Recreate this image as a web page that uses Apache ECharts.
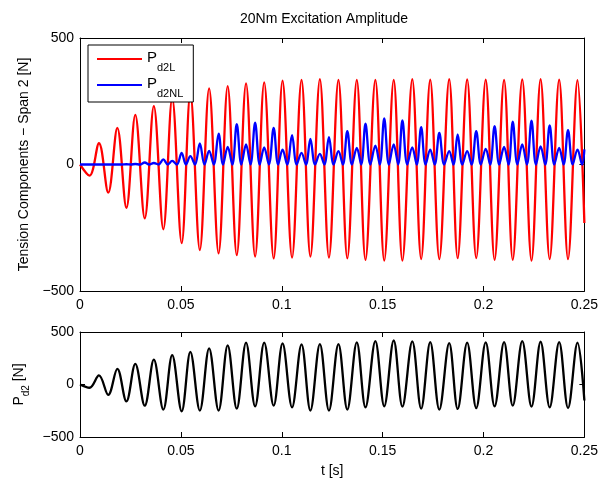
<!DOCTYPE html>
<html>
<head>
<meta charset="utf-8">
<script src="https://cdn.jsdelivr.net/npm/echarts@6/dist/echarts.min.js"></script>
<style>
html, body { margin: 0; padding: 0; background: #fff; }
#main { width: 601px; height: 479px; }
</style>
</head>
<body>
<div id="main"></div>
<script>
// times [s] of the oscillation extremes
var tTrough = [0.0047, 0.0140, 0.0230, 0.0321, 0.0413, 0.0504, 0.0594, 0.0687, 0.0777, 0.0868, 0.0960, 0.1051, 0.1142, 0.1234,
    0.1325, 0.1415, 0.1508, 0.1598, 0.1691, 0.1781, 0.1872, 0.1964, 0.2055, 0.2145, 0.2238, 0.2328, 0.2419];
var tPeak = [0.0094, 0.0185, 0.0274, 0.0366, 0.0457, 0.0547, 0.0640, 0.0732, 0.0823, 0.0913, 0.1004, 0.1098, 0.1189, 0.1281,
    0.1372, 0.1464, 0.1555, 0.1647, 0.1736, 0.1830, 0.1919, 0.2011, 0.2102, 0.2192, 0.2283, 0.2375, 0.2466];
// zero crossings (where Pd2NL touches 0)
var tCross = [0.0070, 0.0117, 0.0163, 0.0207, 0.0252, 0.0297, 0.0343, 0.0389, 0.0435, 0.0480, 0.0525, 0.0570, 0.0617, 0.0663,
    0.0709, 0.0755, 0.0800, 0.0845, 0.0891, 0.0936, 0.0982, 0.1027, 0.1074, 0.1120, 0.1165, 0.1211, 0.1257, 0.1303,
    0.1348, 0.1394, 0.1439, 0.1486, 0.1531, 0.1577, 0.1622, 0.1669, 0.1713, 0.1758, 0.1805, 0.1851, 0.1895, 0.1941,
    0.1987, 0.2033, 0.2078, 0.2124, 0.2168, 0.2215, 0.2260, 0.2306, 0.2351, 0.2397, 0.2442, 0.2489];
var tEnd = 0.25;

// Pd2L (red)
var redTrough = [-44, -111, -171, -213, -256, -311, -338, -351, -358, -364, -371, -368, -364, -368, -371, -377, -380, -380,
    -374, -374, -370, -370, -377, -377, -380, -374, -374];
var redPeak = [84, 145, 196, 231, 262, 281, 301, 310, 321, 325, 331, 334, 337, 334, 334, 334, 334, 337,
    335, 337, 336, 335, 334, 336, 337, 335, 333];
var redEnd = -231;

// Pd2NL (blue)
var blueTrough = [0, 0, 1, 8, 20, 46, 83, 122, 159, 165, 145, 116, 101, 108, 132, 161, 182, 174, 148, 125, 119, 132, 152,
    169, 173, 155, 136];
var bluePeak = [0, 0, 2, 6, 14, 33, 54, 70, 79, 68, 59, 46, 42, 53, 66, 75, 79, 68, 59, 53, 53, 62, 70, 79, 72, 66, 59];
var blueEnd = 60;

// Pd2 (black)
var blackTrough = [-31, -99, -161, -202, -239, -255, -248, -248, -230, -208, -202, -217, -248, -248, -239, -217, -208,
    -211, -230, -239, -233, -224, -208, -202, -211, -217, -224];
var blackPeak = [87, 149, 196, 236, 280, 311, 345, 373, 398, 398, 391, 382, 385, 385, 401, 413, 419, 410, 404, 394,
    398, 401, 404, 413, 407, 404, 398];
var blackEnd = -152;

var xTicks = [0, 0.05, 0.1, 0.15, 0.2, 0.25];
var yTicks = [-500, 0, 500];

function build(trough, peak, endVal, withCross) {
    var d = [[0, 0]];
    var c = 0;
    for (var i = 0; i < trough.length; i++) {
        d.push([tTrough[i], trough[i]]);
        if (withCross) d.push([tCross[c++], 0]);
        d.push([tPeak[i], peak[i]]);
        if (withCross) d.push([tCross[c++], 0]);
    }
    d.push([tEnd, endVal]);
    return d;
}

var font = 'Liberation Sans';
var black = '#000';

function xAx(grid, main) {
    return {
        type: 'value', gridIndex: grid, position: main ? 'bottom' : 'top',
        min: xTicks[0], max: xTicks[xTicks.length - 1], interval: 0.05,
        axisLine: { show: true, onZero: false, lineStyle: { color: black, width: 1 } },
        axisTick: { show: true, inside: true, length: 5, lineStyle: { color: black } },
        axisLabel: { show: main, margin: 7, color: black, fontSize: 14, fontFamily: font },
        splitLine: { show: false }
    };
}
function yAx(grid, main) {
    return {
        type: 'value', gridIndex: grid, position: main ? 'left' : 'right',
        min: yTicks[0], max: yTicks[yTicks.length - 1], interval: 500,
        axisLine: { show: true, onZero: false, lineStyle: { color: black, width: 1 } },
        axisTick: { show: true, inside: true, length: 5, lineStyle: { color: black } },
        axisLabel: {
            show: main, margin: 6, color: black, fontSize: 14, fontFamily: font,
            formatter: function (v) { return String(v).replace('-', '\u2212'); }
        },
        splitLine: { show: false }
    };
}

var xAxes = [xAx(0, true), xAx(0, false), xAx(1, true), xAx(1, false)];
xAxes[2].name = 't [s]';
xAxes[2].nameLocation = 'middle';
xAxes[2].nameGap = 27;
xAxes[2].nameTextStyle = { color: black, fontSize: 14, fontFamily: font };

var yAxes = [yAx(0, true), yAx(0, false), yAx(1, true), yAx(1, false)];
yAxes[0].name = 'Tension Components \u2212 Span 2 [N]';
yAxes[0].nameLocation = 'middle';
yAxes[0].nameGap = 48;
yAxes[0].nameTextStyle = { color: black, fontSize: 14, fontFamily: font };
yAxes[2].name = '{a|P}{b|d2}{a| [N]}';
yAxes[2].nameLocation = 'middle';
yAxes[2].nameGap = 48;
yAxes[2].nameTextStyle = {
    color: black, fontFamily: font,
    rich: {
        a: { fontSize: 14, fontFamily: font, color: black, verticalAlign: 'top', lineHeight: 16 },
        b: { fontSize: 10, fontFamily: font, color: black, verticalAlign: 'top', lineHeight: 10, padding: [9, 0, 0, 0] }
    }
};

var option = {
    animation: false,
    backgroundColor: '#fff',
    title: {
        text: '20Nm Excitation Amplitude',
        left: 240, top: 12, padding: 0,
        textStyle: { color: black, fontSize: 14, fontWeight: 'normal', fontFamily: font }
    },
    legend: {
        data: ['Pd2L', 'Pd2NL'],
        orient: 'vertical',
        left: 88, top: 45,
        padding: [5, 10, 3, 9],
        icon: 'rect',
        itemWidth: 45, itemHeight: 2, itemGap: 3,
        backgroundColor: '#fff',
        borderColor: black, borderWidth: 1, borderRadius: 0,
        formatter: function (name) { return '{m|P}{s|' + name.slice(1) + '}'; },
        textStyle: {
            color: black, fontFamily: font,
            rich: {
                m: { fontSize: 15, fontFamily: font, color: black, verticalAlign: 'top', lineHeight: 18 },
                s: { fontSize: 11, fontFamily: font, color: black, verticalAlign: 'top', lineHeight: 12, padding: [12, 0, 0, 0] }
            }
        }
    },
    grid: [
        { left: 80, top: 38, width: 507, height: 253 },
        { left: 80, top: 332, width: 507, height: 105 }
    ],
    xAxis: xAxes,
    yAxis: yAxes,
    series: [
        {
            name: 'Pd2L', type: 'line', xAxisIndex: 0, yAxisIndex: 0,
            data: build(redTrough, redPeak, redEnd, false),
            symbol: 'none', smooth: 0.36,
            lineStyle: { color: '#ff0000', width: 2.3 }, itemStyle: { color: '#ff0000' }
        },
        {
            name: 'Pd2NL', type: 'line', xAxisIndex: 0, yAxisIndex: 0,
            data: build(blueTrough, bluePeak, blueEnd, true),
            symbol: 'none', smooth: 0.36,
            lineStyle: { color: '#0000ff', width: 2.3 }, itemStyle: { color: '#0000ff' }
        },
        {
            name: 'Pd2', type: 'line', xAxisIndex: 2, yAxisIndex: 2,
            data: build(blackTrough, blackPeak, blackEnd, false),
            symbol: 'none', smooth: 0.36,
            lineStyle: { color: black, width: 2.3 }, itemStyle: { color: black }
        }
    ]
};

var myChart = echarts.init(document.getElementById('main'));
myChart.setOption(option);
</script>
</body>
</html>
